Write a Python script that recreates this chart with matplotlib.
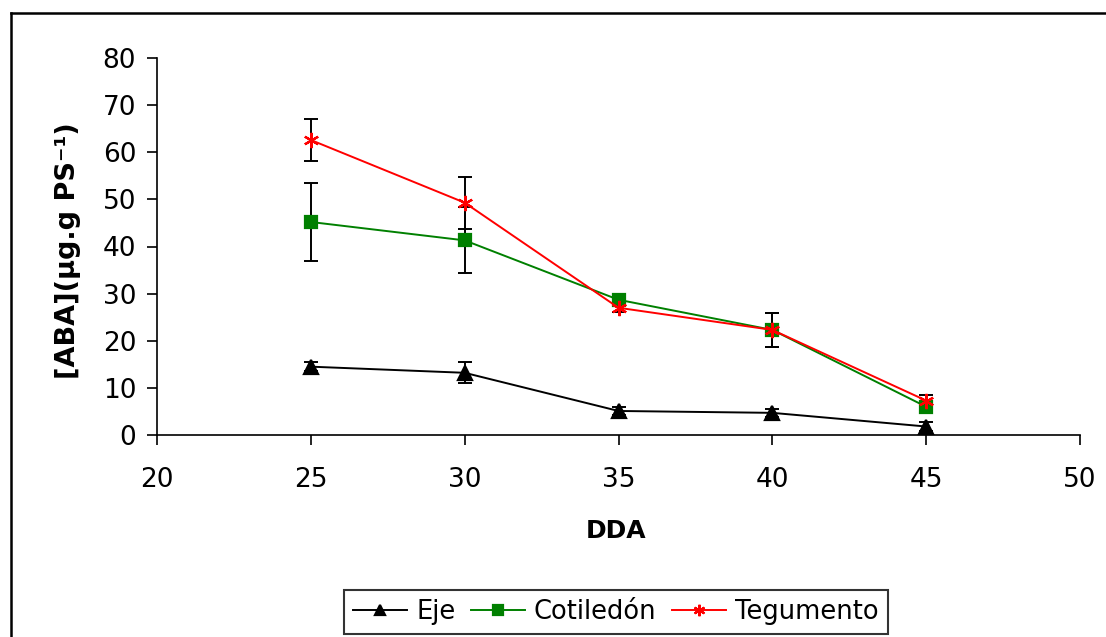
import matplotlib
matplotlib.use("Agg")
import matplotlib.pyplot as plt
from matplotlib.lines import Line2D

plt.rcParams['font.family'] = ['DejaVu Sans']

dda = [25, 30, 35, 40, 45]
eje = [14.5, 13.2, 5.1, 4.7, 1.8]
eje_err = [1.0, 2.2, 0.8, 0.8, 0.9]
cotiledon = [45.2, 41.3, 28.7, 22.3, 6.0]
cotiledon_err = [8.2, 7.0, 1.0, 3.6, 1.0]
tegumento = [62.6, 49.3, 27.0, 22.3, 7.3]
tegumento_err = [4.4, 5.5, 0.8, 3.6, 1.2]

W, H = 1106, 637
fig = plt.figure(figsize=(W / 100, H / 100), dpi=100)
x0, x1, yt, yb = 157, 1080, 58, 435
ax = fig.add_axes([x0 / W, 1 - yb / H, (x1 - x0) / W, (yb - yt) / H])

series = [
    (eje, eje_err, 'black', '^', 'Eje', 10),
    (cotiledon, cotiledon_err, '#008000', 's', 'Cotiledón', 9),
    (tegumento, tegumento_err, '#ff0000', (6, 2, 0), 'Tegumento', 11),
]
handles = []
for vals, errs, col, mk, lab, ms in series:
    ax.errorbar(dda, vals, yerr=errs, fmt='none', ecolor='black',
                elinewidth=1.4, capsize=5, capthick=1.4, zorder=2)
for vals, errs, col, mk, lab, ms in series:
    h, = ax.plot(dda, vals, color=col, lw=1.4, marker=mk, ms=ms,
                 markerfacecolor=col, markeredgecolor=col, mew=1.6,
                 label=lab, zorder=3)
    handles.append(h)

ax.set_xlim(20, 50)
ax.set_ylim(0, 80)
ax.set_xticks([20, 25, 30, 35, 40, 45, 50])
ax.set_yticks(range(0, 81, 10))
for s in ['top', 'right']:
    ax.spines[s].set_visible(False)
for s in ['left', 'bottom']:
    ax.spines[s].set_linewidth(1.2)
ax.tick_params(axis='both', direction='out', length=7, width=1.2,
               labelsize=19)
ax.tick_params(axis='x', pad=16)
ax.tick_params(axis='y', pad=8)

ax.set_xlabel('DDA', fontsize=18, fontweight='bold')
ax.xaxis.set_label_coords((616 - x0) / (x1 - x0), (yb - 531) / (yb - yt))
ax.xaxis.label.set_va('center')
ax.set_ylabel('[ABA](μg.g PS⁻¹)', fontsize=19.5, fontweight='bold')
ax.yaxis.set_label_coords((68 - x0) / (x1 - x0), (yb - 251) / (yb - yt))
ax.yaxis.label.set_va('center')

leg = fig.legend(handles=handles, loc='center', ncol=3,
                 bbox_to_anchor=(616 / W, 1 - 612 / H), fontsize=18.5,
                 frameon=True, fancybox=False, edgecolor='black',
                 handlelength=2.1, handletextpad=0.35, columnspacing=0.6,
                 borderpad=0.35, markerscale=0.75)
leg.get_frame().set_linewidth(1.5)

# outer chart-area border (cropped at right and bottom in the reference)
bx, by = 10.5 / W, 1 - 12.5 / H
fig.add_artist(Line2D([bx, bx], [0, by], transform=fig.transFigure,
                      color='black', lw=1.8, solid_capstyle='projecting'))
fig.add_artist(Line2D([bx, 1], [by, by], transform=fig.transFigure,
                      color='black', lw=1.8, solid_capstyle='projecting'))

fig.savefig('out.png', dpi=100)
